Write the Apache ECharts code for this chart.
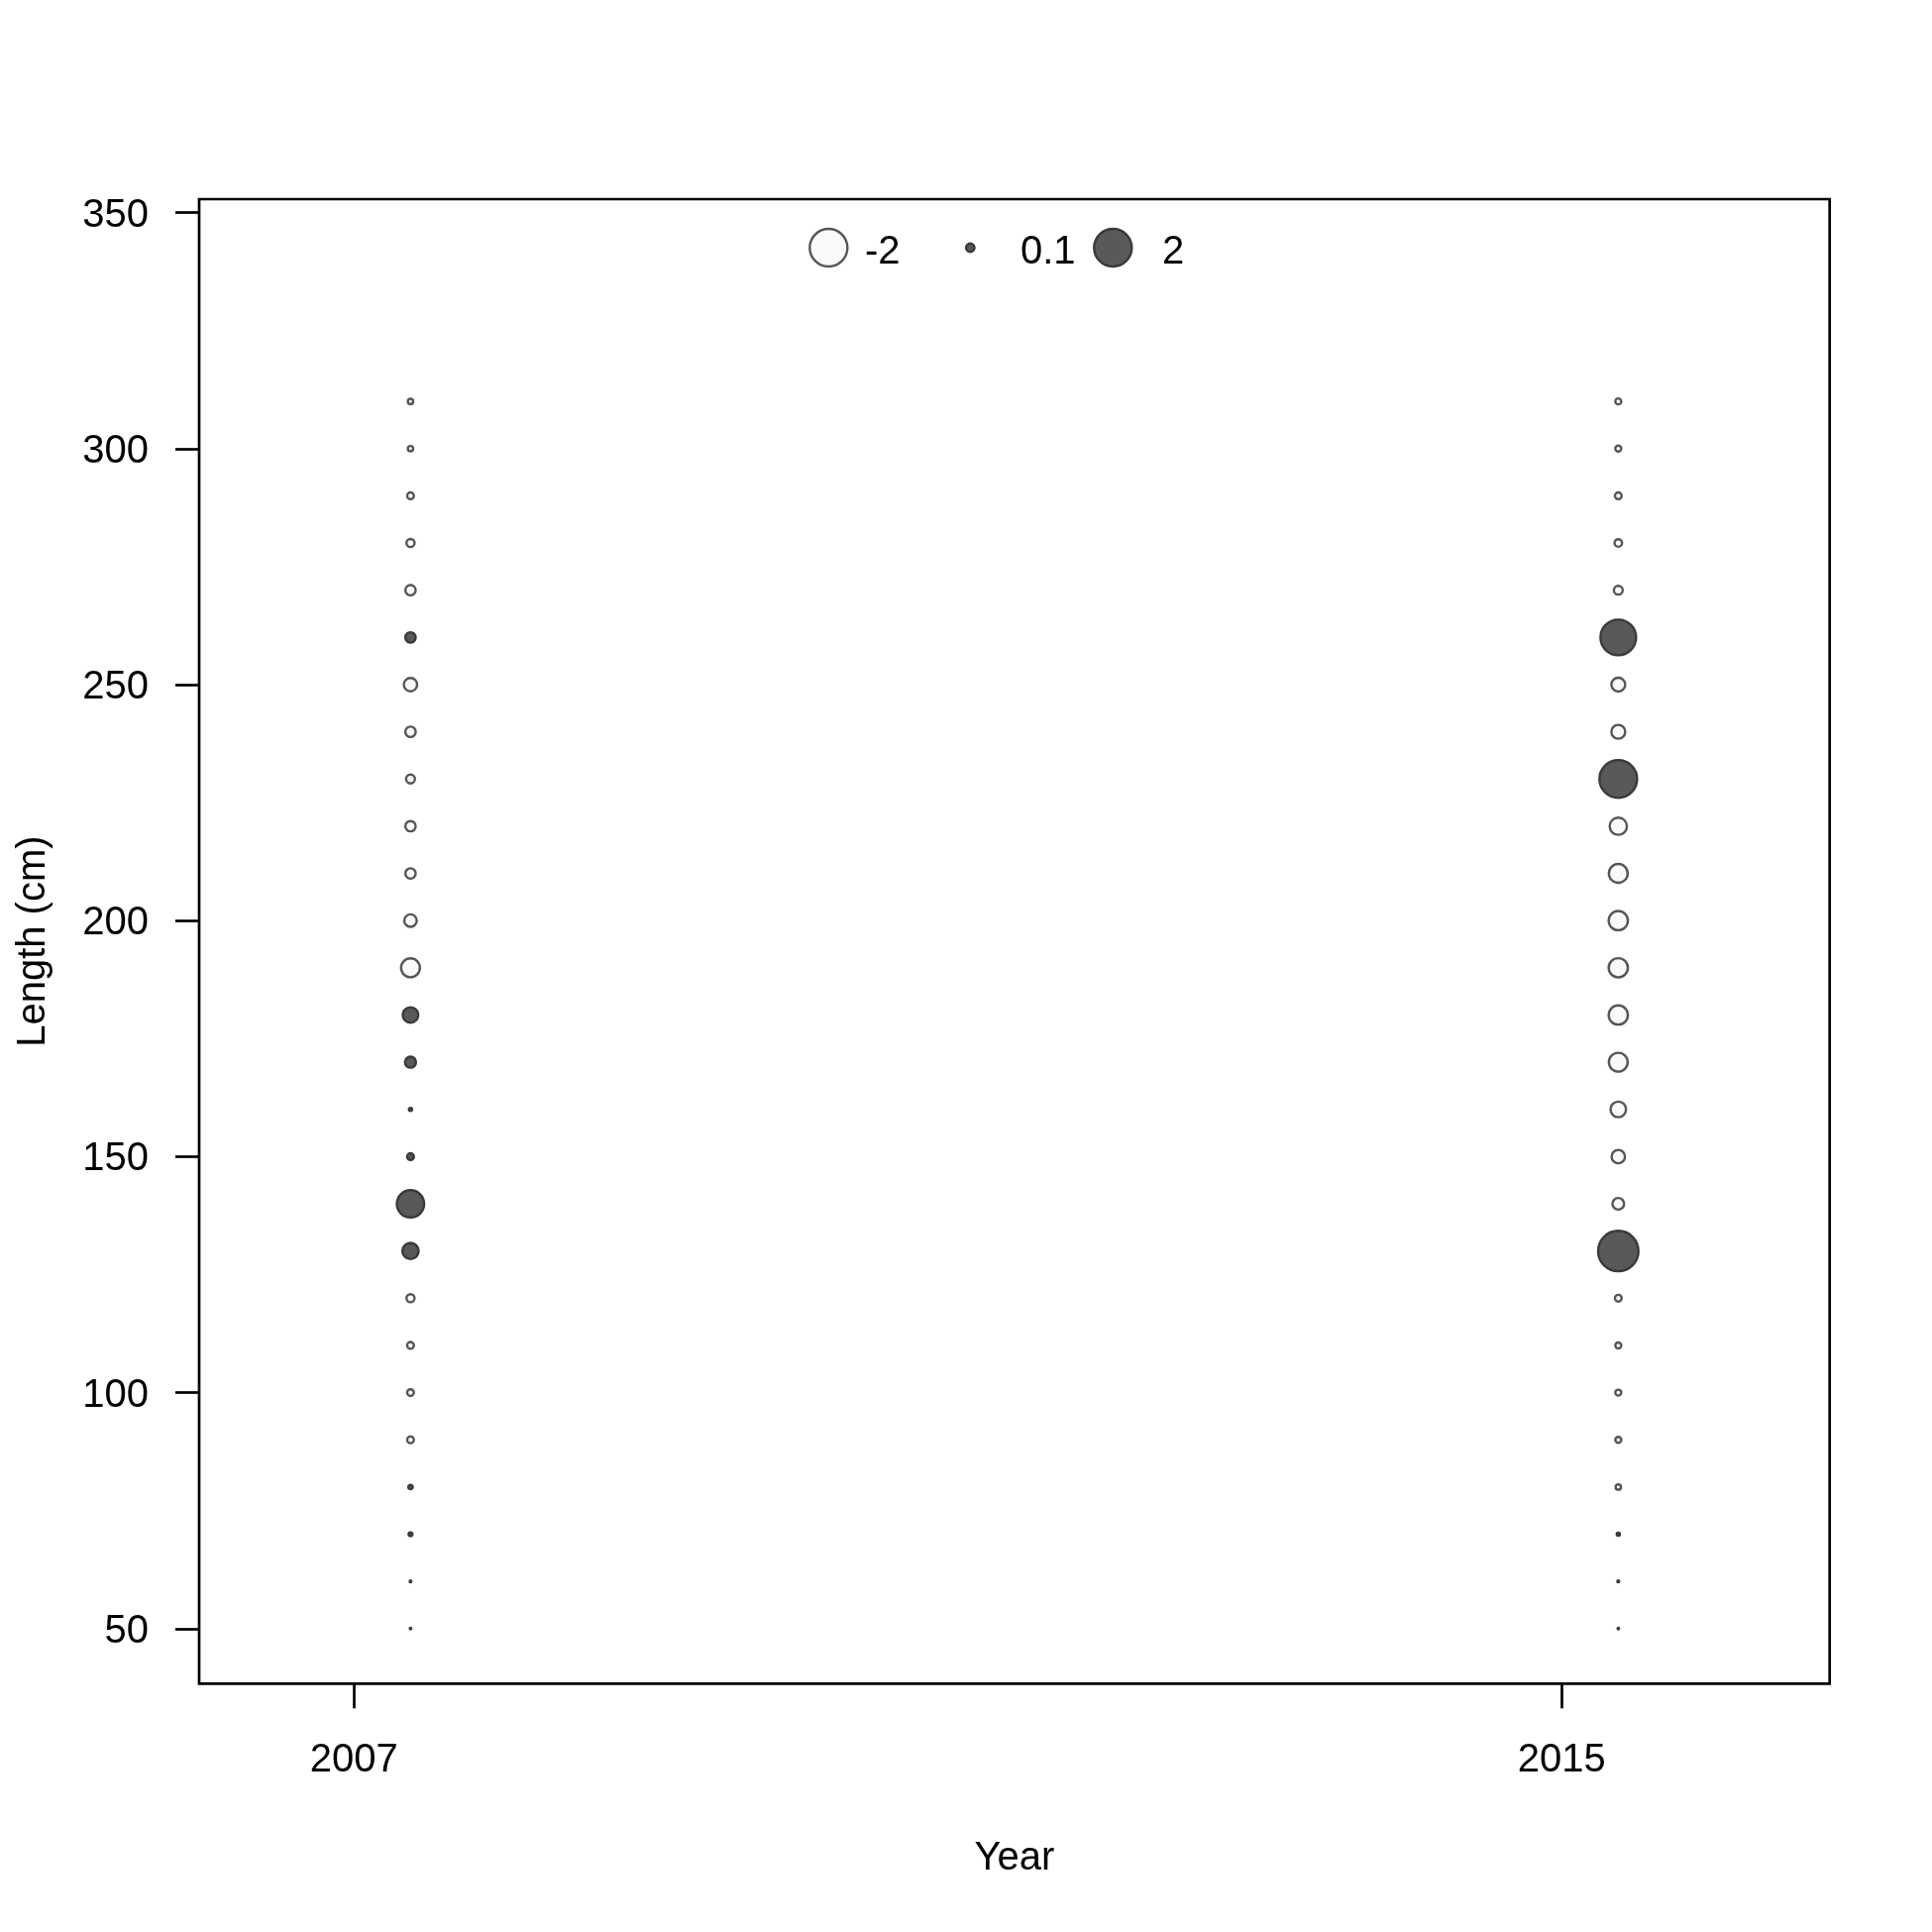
<!DOCTYPE html>
<html>
<head>
<meta charset="utf-8">
<script src="https://cdn.jsdelivr.net/npm/echarts@6/dist/echarts.min.js"></script>
<style>
html,body{margin:0;padding:0;background:#fff;}
#chart{width:1950px;height:1950px;}
</style>
</head>
<body>
<div id="chart"></div>
<script>
// ---- data ----
const years = [2007.375, 2015.375];
const lengths = [50,60,70,80,90,100,110,120,130,140,150,160,170,180,190,200,210,220,230,240,250,260,270,280,290,300,310];
const resid2007 = [0.003,0.004,0.02,0.029,-0.064,-0.064,-0.064,-0.093,0.37,1.05,0.064,0.014,0.17,0.34,-0.5,-0.22,-0.15,-0.15,-0.11,-0.15,-0.25,0.15,-0.15,-0.093,-0.064,-0.04,-0.04];
const resid2015 = [0.003,0.005,0.014,-0.04,-0.05,-0.05,-0.05,-0.064,2.29,-0.19,-0.25,-0.34,-0.5,-0.52,-0.52,-0.52,-0.5,-0.42,2.0,-0.27,-0.27,1.79,-0.11,-0.08,-0.064,-0.05,-0.05];
const xTicks = [2007, 2015];
const yTicks = [50, 100, 150, 200, 250, 300, 350];
const legendValues = [-2, 0.1, 2];
const legendLabels = ['-2', '0.1', '2'];

// ---- styling ----
const FONT = 'Liberation Sans, Arial, sans-serif';
const POS_FILL = '#595959', POS_BORDER = '#3a3a3a';
const NEG_FILL = '#f9f9f9', NEG_BORDER = '#555555';
const BORDER_W = 2.4;
const SIZE_K = 26.9;
function bubbleSize(v){ return Math.max(1.2, SIZE_K * Math.sqrt(Math.abs(v))); }

const residByYear = [resid2007, resid2015];
const allData = [];
years.forEach((yr, i) => {
  lengths.forEach((len, j) => {
    const v = residByYear[i][j];
    allData.push({
      value: [yr, len, v],
      itemStyle: v >= 0
        ? {color: POS_FILL, borderColor: POS_BORDER, borderWidth: BORDER_W, opacity: 1}
        : {color: NEG_FILL, borderColor: NEG_BORDER, borderWidth: BORDER_W, opacity: 1}
    });
  });
});

const chart = echarts.init(document.getElementById('chart'), null, {renderer: 'canvas'});

// legend graphic
const legendCenters = [836.3, 979.3, 1123.3];
const legendTextX = [873, 1030, 1173];
const legendY = 250;
const graphics = [];
legendValues.forEach((v, i) => {
  const pos = v >= 0;
  graphics.push({
    type: 'circle',
    shape: {cx: legendCenters[i], cy: legendY, r: bubbleSize(v) / 2},
    style: {fill: pos ? POS_FILL : NEG_FILL, stroke: pos ? POS_BORDER : NEG_BORDER, lineWidth: BORDER_W},
    z: 100
  });
  graphics.push({
    type: 'text',
    x: legendTextX[i], y: legendY + 5,
    style: {text: legendLabels[i], font: '40px ' + FONT, fill: '#000', verticalAlign: 'middle', align: 'left'},
    z: 100
  });
});

const option = {
  backgroundColor: '#fff',
  animation: false,
  grid: {
    left: 201, right: 103.3, top: 201, bottom: 250.7,
    show: true, borderColor: '#000', borderWidth: 2.7, backgroundColor: 'transparent'
  },
  xAxis: {
    type: 'value',
    min: 2005.975, max: 2016.775,
    name: 'Year', nameLocation: 'middle', nameGap: 157,
    nameTextStyle: {fontFamily: FONT, fontSize: 40, color: '#000'},
    axisLine: {show: false},
    splitLine: {show: false},
    axisTick: {show: true, length: 25, customValues: xTicks, lineStyle: {color: '#000', width: 2.7}},
    axisLabel: {show: true, customValues: xTicks, margin: 58, fontFamily: FONT, fontSize: 40, color: '#000',
      formatter: v => String(v)}
  },
  yAxis: {
    type: 'value',
    min: 38.35, max: 352.85,
    name: 'Length (cm)', nameLocation: 'middle', nameGap: 147, nameRotate: 90,
    nameTextStyle: {fontFamily: FONT, fontSize: 40, color: '#000'},
    axisLine: {show: false},
    splitLine: {show: false},
    axisTick: {show: true, length: 24, customValues: yTicks, lineStyle: {color: '#000', width: 2.7}},
    axisLabel: {show: true, customValues: yTicks, margin: 51, color: '#000',
      formatter: v => '{t|' + v + '}',
      rich: {t: {fontFamily: FONT, fontSize: 40, color: '#000', lineHeight: 40, padding: [6, 0, 0, 0]}}}
  },
  graphic: graphics,
  series: [{
    type: 'scatter',
    symbol: 'circle',
    data: allData,
    symbolSize: (val) => bubbleSize(val[2]),
    itemStyle: {opacity: 1},
    emphasis: {disabled: true},
    z: 5
  }]
};
chart.setOption(option);
</script>
</body>
</html>
